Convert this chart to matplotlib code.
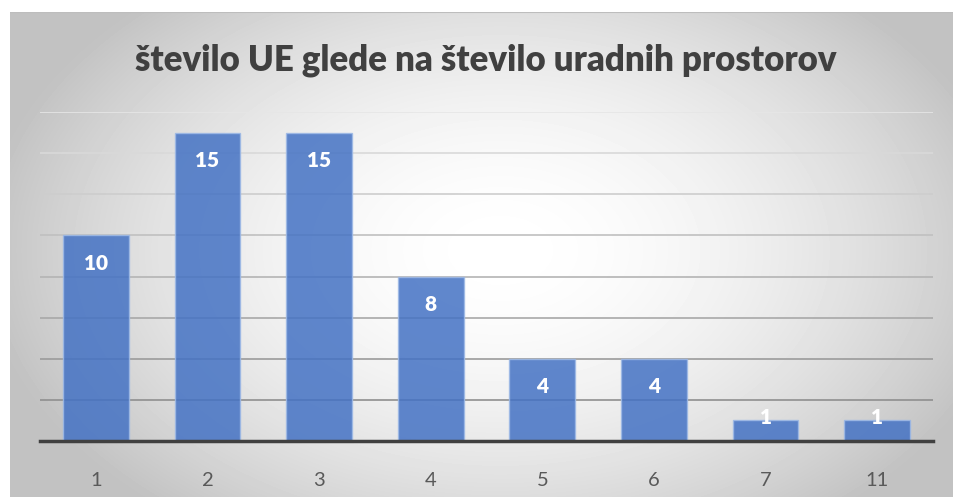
import numpy as np
import matplotlib
matplotlib.use('Agg')
import matplotlib.pyplot as plt

# podatki
categories = ['1', '2', '3', '4', '5', '6', '7', '11']
values = [10, 15, 15, 8, 4, 4, 1, 1]
grid_values = [2, 4, 6, 8, 10, 12, 14, 16]
title = 'število UE glede na število uradnih prostorov'

W, H = 954, 497
fig = plt.figure(figsize=(W / 100, H / 100), dpi=100)
fig.patch.set_facecolor('white')

# ozadje z radialnim prelivom
bg = fig.add_axes([10 / W, 0, (W - 10) / W, (H - 12) / H])
yy, xx = np.mgrid[12:H, 10:W]
r = np.sqrt(((xx - 500) / 520.0) ** 2 + ((yy - 250) / 340.0) ** 2)
shade = 1 - 0.24 * np.clip(r, 0, 1) ** 1.8
bg.imshow(shade, cmap='gray', vmin=0, vmax=1, aspect='auto',
          extent=[0, 1, 0, 1], interpolation='bilinear')
bg.set_xlim(0, 1)
bg.set_ylim(0, 1)
bg.axhline(1, color='#BDBDBD', lw=1.5)
bg.axis('off')

ax = fig.add_axes([40 / W, (H - 441) / H, 893 / W, 329 / H])
ax.patch.set_alpha(0)
x = np.arange(len(categories))

# mreža - spodaj temnejša
for i, g in enumerate(grid_values):
    level = 0.56 + 0.34 * i / (len(grid_values) - 1)
    ax.axhline(g, color=str(level), lw=1.2, zorder=1)

bars = ax.bar(x, values, width=0.59, color='#4472C4', alpha=0.85,
              edgecolor='#9DB9E6', linewidth=1, zorder=2)
ax.axhline(0, color='#404040', lw=2.5, zorder=3, clip_on=False)

px_per_unit = 329 / 16
for xi, v in zip(x, values):
    if v * px_per_unit > 56:
        off = -28
    else:
        off = 3
    ax.annotate(str(v), (xi, v), xytext=(0, off), textcoords='offset pixels',
                ha='center', va='center', color='white', fontsize=15,
                fontweight='heavy', family='Lato', zorder=4)

ax.set_xlim(-0.5, len(categories) - 0.5)
ax.set_ylim(0, 16)
ax.set_xticks(x)
ax.set_xticklabels(categories, fontsize=14.5, color='#595959', family='Lato')
ax.tick_params(axis='x', length=0, pad=22)
ax.set_yticks([])
for s in ax.spines.values():
    s.set_visible(False)

fig.text(486 / W, 1 - 60 / H, title, ha='center', va='center',
         fontsize=25, fontweight='heavy', color='#404040', family='Lato')

fig.savefig('out.png', dpi=100)
